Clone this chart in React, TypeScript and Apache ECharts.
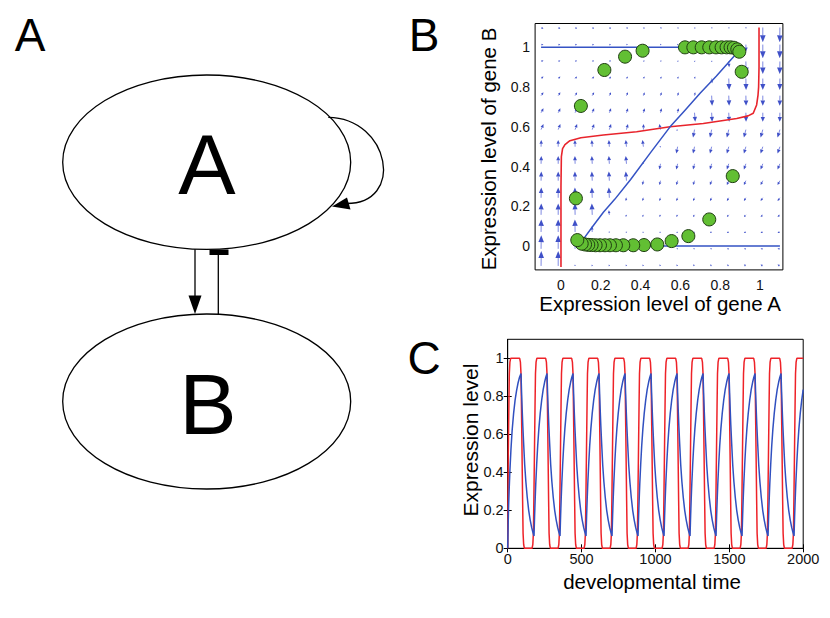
import React, { useEffect, useRef } from "react";
import * as echarts from "echarts";

const FONT = "'Liberation Sans', Arial, Helvetica, sans-serif";

// ---------- Panel B : phase plane ----------
const FIELD_A = [-0.1, -0.014, 0.071, 0.157, 0.243, 0.329, 0.414, 0.5, 0.586, 0.671, 0.757, 0.843, 0.929, 1.014, 1.1];
const FIELD_B = [-0.1, -0.014, 0.071, 0.157, 0.243, 0.329, 0.414, 0.5, 0.586, 0.671, 0.757, 0.843, 0.929, 1.014, 1.1];
const FIELD_DY = [
  [14.9, 14.9, 1.4, 1.4, 1.4, 1.4, 1.4, 1.4, 1.4, 1.4, 1.4, 1.4, 1.4, 1.4, 1.4],
  [13.7, 13.7, 6.9, 0.2, 0.2, 0.2, 0.2, 0.2, 0.2, 0.2, 0.2, 0.2, 0.2, 0.2, 0.2],
  [12.5, 12.5, 12.5, 5.8, -1.0, -1.0, -1.0, -1.0, -1.0, -1.0, -1.0, -1.0, -1.0, -1.0, -1.0],
  [11.4, 11.4, 11.4, 11.4, 4.6, -2.1, -2.1, -2.1, -2.1, -2.1, -2.1, -2.1, -2.1, -2.1, -2.1],
  [10.2, 10.2, 10.2, 10.2, 10.2, -3.3, -3.3, -3.3, -3.3, -3.3, -3.3, -3.3, -3.3, -3.3, -3.3],
  [9.1, 9.1, 9.1, 9.1, 9.1, 9.1, -4.4, -4.4, -4.4, -4.4, -4.4, -4.4, -4.4, -4.4, -4.4],
  [7.9, 7.9, 7.9, 7.9, 7.9, 7.9, 1.2, -5.6, -5.6, -5.6, -5.6, -5.6, -5.6, -5.6, -5.6],
  [6.8, 6.8, 6.8, 6.8, 6.8, 6.8, 6.8, 0.0, -6.8, -6.8, -6.8, -6.8, -6.8, -6.8, -6.8],
  [5.6, 5.6, 5.6, 5.6, 5.6, 5.6, 5.6, 5.6, -1.2, -7.9, -7.9, -7.9, -7.9, -7.9, -7.9],
  [4.4, 4.4, 4.4, 4.4, 4.4, 4.4, 4.4, 4.4, 4.4, -9.1, -9.1, -9.1, -9.1, -9.1, -9.1],
  [3.3, 3.3, 3.3, 3.3, 3.3, 3.3, 3.3, 3.3, 3.3, 3.3, -10.2, -10.2, -10.2, -10.2, -10.2],
  [2.1, 2.1, 2.1, 2.1, 2.1, 2.1, 2.1, 2.1, 2.1, 2.1, -4.6, -11.4, -11.4, -11.4, -11.4],
  [1.0, 1.0, 1.0, 1.0, 1.0, 1.0, 1.0, 1.0, 1.0, 1.0, 1.0, -5.8, -12.5, -12.5, -12.5],
  [-0.2, -0.2, -0.2, -0.2, -0.2, -0.2, -0.2, -0.2, -0.2, -0.2, -0.2, -0.2, -6.9, -13.7, -13.7],
  [-1.4, -1.4, -1.4, -1.4, -1.4, -1.4, -1.4, -1.4, -1.4, -1.4, -1.4, -1.4, -1.4, -14.9, -14.9],
];
const FIELD_DX = [
  [0.2, 0, -0.2, -0.4, -0.5, -0.7, -0.9, -1.1, -1.3, -1.5, -1.7, -1.9, -2.0, -2.2, -2.4],
  [0.2, 0, -0.2, -0.4, -0.5, -0.7, -0.9, -1.1, -1.3, -1.5, -1.7, -1.9, -2.0, -2.2, -2.4],
  [0.2, 0, -0.2, -0.4, -0.5, -0.7, -0.9, -1.1, -1.3, -1.5, -1.7, -1.9, -2.0, -2.2, -2.4],
  [0.2, 0, -0.2, -0.4, -0.5, -0.7, -0.9, -1.1, -1.3, -1.5, -1.7, -1.9, -2.0, -2.2, -2.4],
  [0.2, 0, -0.2, -0.4, -0.5, -0.7, -0.9, -1.1, -1.3, -1.5, -1.7, -1.9, -2.0, -2.2, -2.4],
  [0.2, 0, -0.2, -0.4, -0.5, -0.7, -0.9, -1.1, -1.3, -1.5, -1.7, -1.9, -2.0, -2.2, -2.4],
  [0.2, 0, -0.2, -0.4, -0.5, -0.7, -0.9, -1.1, -1.3, -1.5, -1.7, -1.9, -2.0, -2.2, -2.4],
  [0.2, 0, -0.2, -0.4, -0.5, -0.7, -0.9, -1.1, -1.3, -1.5, -1.7, -1.9, -2.0, -2.2, -2.4],
  [2.4, 2.2, 2.0, 1.9, 1.7, 1.5, 0.2, -1.1, -1.3, -1.5, -1.7, -1.9, -2.0, -2.2, -2.4],
  [2.4, 2.2, 2.0, 1.9, 1.7, 1.5, 1.3, 1.1, 0.9, 0.7, 0.5, 0.4, 0.2, 0, -0.2],
  [2.4, 2.2, 2.0, 1.9, 1.7, 1.5, 1.3, 1.1, 0.9, 0.7, 0.5, 0.4, 0.2, 0, -0.2],
  [2.4, 2.2, 2.0, 1.9, 1.7, 1.5, 1.3, 1.1, 0.9, 0.7, 0.5, 0.4, 0.2, 0, -0.2],
  [2.4, 2.2, 2.0, 1.9, 1.7, 1.5, 1.3, 1.1, 0.9, 0.7, 0.5, 0.4, 0.2, 0, -0.2],
  [2.4, 2.2, 2.0, 1.9, 1.7, 1.5, 1.3, 1.1, 0.9, 0.7, 0.5, 0.4, 0.2, 0, -0.2],
  [2.4, 2.2, 2.0, 1.9, 1.7, 1.5, 1.3, 1.1, 0.9, 0.7, 0.5, 0.4, 0.2, 0, -0.2],
];

// red nullcline
const RED_NC_A = [0, 0, 0.002, 0.008, 0.02, 0.045, 0.1, 0.213, 0.38, 0.548, 0.715, 0.883, 0.94, 0.966, 0.983, 0.99, 0.993, 0.995, 0.995];
const RED_NC_B = [-0.105, 0.3, 0.45, 0.49, 0.51, 0.53, 0.545, 0.559, 0.575, 0.6, 0.617, 0.642, 0.655, 0.668, 0.71, 0.76, 0.8, 0.9, 1.1];
// blue nullcline
const BLUE_NC_A = [-0.1, 0.9, 0.9, 0.874, 0.78, 0.7, 0.62, 0.548, 0.45, 0.35, 0.27, 0.213, 0.16, 0.12, 0.1, 0.1, 1.1];
const BLUE_NC_B = [1.0, 1.0, 0.99, 0.96, 0.855, 0.77, 0.68, 0.6, 0.47, 0.335, 0.235, 0.17, 0.1, 0.045, 0.01, 0, 0];
// trajectory (green circles), in time order
const TRAJ_A = [0.075, 0.1, 0.218, 0.322, 0.41, 0.623, 0.665, 0.707, 0.745, 0.779, 0.807, 0.832, 0.852, 0.869, 0.886, 0.896, 0.908, 0.863, 0.745, 0.64, 0.556, 0.484, 0.417, 0.363, 0.313, 0.276, 0.246, 0.221, 0.196, 0.174, 0.154, 0.137, 0.121, 0.104, 0.082];
const TRAJ_B = [0.24, 0.705, 0.886, 0.953, 0.983, 1.0, 1.0, 1.0, 1.0, 1.0, 1.0, 1.0, 1.0, 0.998, 0.99, 0.978, 0.877, 0.352, 0.134, 0.05, 0.025, 0.008, 0.005, 0.004, 0.004, 0.004, 0.004, 0.004, 0.004, 0.004, 0.005, 0.006, 0.008, 0.012, 0.03];
const B_TICKS = [0, 0.2, 0.4, 0.6, 0.8, 1];

// ---------- Panel C : time courses ----------
const RED_RISE_T = [4, 181, 357, 533, 709, 885, 1061, 1237, 1413, 1589, 1765, 1941];
const RED_FALL_T = [97, 273, 449, 625, 801, 977, 1153, 1329, 1505, 1681, 1857];
const RED_EDGE_DT = [-16, -11, -7, -4, 0, 4, 7, 11, 16];
const RED_EDGE_V = [0, 0.02, 0.08, 0.25, 0.5, 0.75, 0.92, 0.98, 1];

const BLUE_START_DT = [0, 3, 6, 10, 15, 22, 30, 40, 50, 60, 70, 80, 90];
const BLUE_START_V = [0, 0.12, 0.22, 0.31, 0.41, 0.52, 0.62, 0.71, 0.78, 0.83, 0.87, 0.9, 0.92];
const BLUE_PEAK_T = [90, 266, 442, 618, 794, 970, 1146, 1322, 1498, 1674, 1850];
const BLUE_MIN_T = [178, 354, 530, 706, 882, 1058, 1234, 1410, 1586, 1762, 1938];
const BLUE_RISE_DT = [0, 4, 8, 12, 18, 25, 33, 42, 52, 62, 72, 80, 88];
const BLUE_RISE_V = [0.065, 0.17, 0.26, 0.34, 0.44, 0.54, 0.63, 0.71, 0.78, 0.835, 0.875, 0.9, 0.92];
const BLUE_FALL_DT = [0, 4, 8, 12, 18, 25, 33, 42, 52, 62, 72, 80, 88];
const BLUE_FALL_V = [0.92, 0.82, 0.73, 0.65, 0.55, 0.44, 0.35, 0.27, 0.2, 0.15, 0.11, 0.085, 0.065];
const C_Y_TICKS = [0, 0.2, 0.4, 0.6, 0.8, 1];
const T_MAX = 2000;

function buildRed(): number[][] {
  const ev: { t: number; rise: boolean }[] = [];
  RED_RISE_T.forEach((t) => ev.push({ t, rise: true }));
  RED_FALL_T.forEach((t) => ev.push({ t, rise: false }));
  ev.sort((a, b) => a.t - b.t);
  const pts: number[][] = [[0, 0]];
  ev.forEach((e) => {
    RED_EDGE_DT.forEach((dt, k) => {
      const tt = e.t + dt;
      if (tt > 0 && tt <= T_MAX) pts.push([tt, e.rise ? RED_EDGE_V[k] : 1 - RED_EDGE_V[k]]);
    });
  });
  pts.push([T_MAX, 1]);
  return pts;
}

function buildBlue(): number[][] {
  const pts: number[][] = [];
  BLUE_START_DT.forEach((dt, k) => pts.push([dt, BLUE_START_V[k]]));
  BLUE_PEAK_T.forEach((p, i) => {
    BLUE_FALL_DT.forEach((dt, k) => {
      if (k > 0 && p + dt <= T_MAX) pts.push([p + dt, BLUE_FALL_V[k]]);
    });
    const m = BLUE_MIN_T[i];
    if (m !== undefined) {
      BLUE_RISE_DT.forEach((dt, k) => {
        if (k > 0 && m + dt <= T_MAX) pts.push([m + dt, BLUE_RISE_V[k]]);
      });
    }
  });
  return pts;
}

export default function App() {
  const ref = useRef<HTMLDivElement>(null);
  useEffect(() => {
    if (!ref.current) return;
    const chart = echarts.init(ref.current, undefined, { renderer: "svg" });

    const field: number[][] = [];
    FIELD_B.forEach((b, r) => {
      FIELD_A.forEach((a, c) => {
        field.push([a, b, FIELD_DX[r][c], FIELD_DY[r][c]]);
      });
    });

    const axisText = { color: "#111", fontFamily: FONT, fontSize: 14 };

    const graphic: any[] = [
      // panel letters
      { type: "text", x: 30, y: 35, style: { text: "A", fontSize: 46, fontFamily: FONT, fill: "#000", align: "center", verticalAlign: "middle" } },
      { type: "text", x: 424, y: 35, style: { text: "B", fontSize: 46, fontFamily: FONT, fill: "#000", align: "center", verticalAlign: "middle" } },
      { type: "text", x: 424, y: 358, style: { text: "C", fontSize: 46, fontFamily: FONT, fill: "#000", align: "center", verticalAlign: "middle" } },
      // network diagram
      { type: "ellipse", shape: { cx: 206.7, cy: 162.2, rx: 144, ry: 87.2 }, style: { fill: "#fff", stroke: "#000", lineWidth: 1.3 } },
      { type: "ellipse", shape: { cx: 206.7, cy: 401.5, rx: 144, ry: 87.5 }, style: { fill: "#fff", stroke: "#000", lineWidth: 1.3 } },
      { type: "text", x: 207, y: 164, style: { text: "A", fontSize: 86, fontFamily: FONT, fill: "#000", align: "center", verticalAlign: "middle" } },
      { type: "text", x: 208, y: 404, style: { text: "B", fontSize: 86, fontFamily: FONT, fill: "#000", align: "center", verticalAlign: "middle" } },
      { type: "bezierCurve", shape: { x1: 328.3, y1: 117.3, cpx1: 390, cpy1: 118, cpx2: 406, cpy2: 205, x2: 345, y2: 203.5 }, style: { stroke: "#000", lineWidth: 1.3, fill: "none" } },
      { type: "polygon", shape: { points: [[332, 206.5], [347, 197.5], [350.5, 209.5]] }, style: { fill: "#000" } },
      { type: "line", shape: { x1: 195, y1: 249.3, x2: 195, y2: 297 }, style: { stroke: "#000", lineWidth: 1.3 } },
      { type: "polygon", shape: { points: [[195, 314], [188.5, 295.5], [201.5, 295.5]] }, style: { fill: "#000" } },
      { type: "line", shape: { x1: 218.3, y1: 255, x2: 218.3, y2: 314 }, style: { stroke: "#000", lineWidth: 1.3 } },
      { type: "rect", shape: { x: 209.5, y: 249.5, width: 19, height: 5.5 }, style: { fill: "#000" } },
      // axis titles
      { type: "text", x: 660, y: 303.5, style: { text: "Expression level of gene A", fontSize: 20.5, fontFamily: FONT, fill: "#000", align: "center", verticalAlign: "middle" } },
      { type: "text", x: 488.5, y: 149, rotation: Math.PI / 2, style: { text: "Expression level of gene B", fontSize: 20.5, fontFamily: FONT, fill: "#000", align: "center", verticalAlign: "middle" } },
      { type: "text", x: 470, y: 440, rotation: Math.PI / 2, style: { text: "Expression level", fontSize: 21, fontFamily: FONT, fill: "#000", align: "center", verticalAlign: "middle" } },
      { type: "text", x: 652, y: 581, style: { text: "developmental time", fontSize: 20.5, fontFamily: FONT, fill: "#000", align: "center", verticalAlign: "middle" } },
    ];

    const option: any = {
      animation: false,
      backgroundColor: "#fff",
      grid: [
        { left: 535.1, top: 23.5, width: 247.8, height: 246.4, show: true, borderColor: "#000", borderWidth: 1, backgroundColor: "transparent" },
        { left: 507.7, top: 339.3, width: 295.5, height: 209, show: true, borderColor: "#000", borderWidth: 1, backgroundColor: "transparent" },
      ],
      xAxis: [
        {
          gridIndex: 0, type: "value", min: -0.13, max: 1.115,
          axisLine: { show: false }, splitLine: { show: false }, axisTick: { show: false },
          axisLabel: { ...axisText, margin: 8, customValues: B_TICKS, formatter: (v: number) => String(v) },
        },
        {
          gridIndex: 1, type: "value", min: 0, max: T_MAX, interval: 500,
          axisLine: { show: true, lineStyle: { color: "#000" } }, splitLine: { show: false },
          axisTick: { show: true, inside: true, length: 4, lineStyle: { color: "#000" } },
          axisLabel: { ...axisText, fontSize: 14.5, margin: 3, formatter: (v: number) => String(v) },
        },
        {
          gridIndex: 1, type: "value", min: 0, max: T_MAX, interval: 500, position: "top",
          axisLine: { show: false }, splitLine: { show: false },
          axisTick: { show: true, inside: true, length: 4, lineStyle: { color: "#000" } },
          axisLabel: { show: false },
        },
      ],
      yAxis: [
        {
          gridIndex: 0, type: "value", min: -0.12, max: 1.12,
          axisLine: { show: false }, splitLine: { show: false }, axisTick: { show: false },
          axisLabel: { ...axisText, margin: 5, customValues: B_TICKS, formatter: (v: number) => String(v) },
        },
        {
          gridIndex: 1, type: "value", min: 0, max: 1.1,
          axisLine: { show: true, lineStyle: { color: "#000" } }, splitLine: { show: false },
          axisTick: { show: true, inside: true, length: 4, customValues: C_Y_TICKS, lineStyle: { color: "#000" } },
          axisLabel: { ...axisText, fontSize: 14.5, margin: 4, customValues: C_Y_TICKS, formatter: (v: number) => String(v) },
        },
        {
          gridIndex: 1, type: "value", min: 0, max: 1.1, position: "right",
          axisLine: { show: false }, splitLine: { show: false },
          axisTick: { show: true, inside: true, length: 4, customValues: C_Y_TICKS, lineStyle: { color: "#000" } },
          axisLabel: { show: false },
        },
      ],
      graphic,
      series: [
        {
          type: "custom", xAxisIndex: 0, yAxisIndex: 0, z: 1, clip: true,
          data: field,
          encode: { x: 0, y: 1 },
          renderItem: (params: any, api: any) => {
            const p = api.coord([api.value(0), api.value(1)]);
            const dx = api.value(2);
            const dy = api.value(3);
            const L = Math.hypot(dx, dy);
            if (L < 0.3) return { type: "group", children: [] };
            const ex = p[0] + dx;
            const ey = p[1] - dy;
            const ux = dx / L;
            const uy = -dy / L;
            const hl = Math.min(7, 0.45 * L + 0.8);
            const hw = Math.min(2.8, 0.18 * L + 0.5);
            const bx = ex - ux * hl;
            const by = ey - uy * hl;
            const nx = -uy;
            const ny = ux;
            return {
              type: "group",
              children: [
                { type: "line", shape: { x1: p[0], y1: p[1], x2: bx, y2: by }, style: { stroke: "#7f8ae2", lineWidth: 1 } },
                { type: "polygon", shape: { points: [[ex, ey], [bx + nx * hw, by + ny * hw], [bx - nx * hw, by - ny * hw]] }, style: { fill: "#3f50c8" } },
              ],
            };
          },
        },
        {
          type: "line", xAxisIndex: 0, yAxisIndex: 0, z: 2, showSymbol: false, clip: true,
          data: RED_NC_A.map((a, i) => [a, RED_NC_B[i]]),
          lineStyle: { color: "#e8242c", width: 1.6 },
        },
        {
          type: "line", xAxisIndex: 0, yAxisIndex: 0, z: 2, showSymbol: false, clip: true,
          data: BLUE_NC_A.map((a, i) => [a, BLUE_NC_B[i]]),
          lineStyle: { color: "#3553c4", width: 1.5 },
        },
        {
          type: "scatter", xAxisIndex: 0, yAxisIndex: 0, z: 3,
          data: TRAJ_A.map((a, i) => [a, TRAJ_B[i]]),
          symbolSize: 13,
          itemStyle: { color: "#62bf33", borderColor: "#1f3d12", borderWidth: 1, opacity: 1 },
        },
        {
          type: "line", xAxisIndex: 1, yAxisIndex: 1, z: 2, showSymbol: false, clip: true,
          data: buildRed(),
          lineStyle: { color: "#ee2228", width: 1.5 },
        },
        {
          type: "line", xAxisIndex: 1, yAxisIndex: 1, z: 3, showSymbol: false, clip: true,
          data: buildBlue(),
          lineStyle: { color: "#3050c0", width: 1.5 },
        },
      ],
    };
    chart.setOption(option);
    return () => chart.dispose();
  }, []);
  return <div ref={ref} style={{ position: "absolute", left: 0, top: 0, width: 830, height: 618, background: "#fff" }} />;
}
